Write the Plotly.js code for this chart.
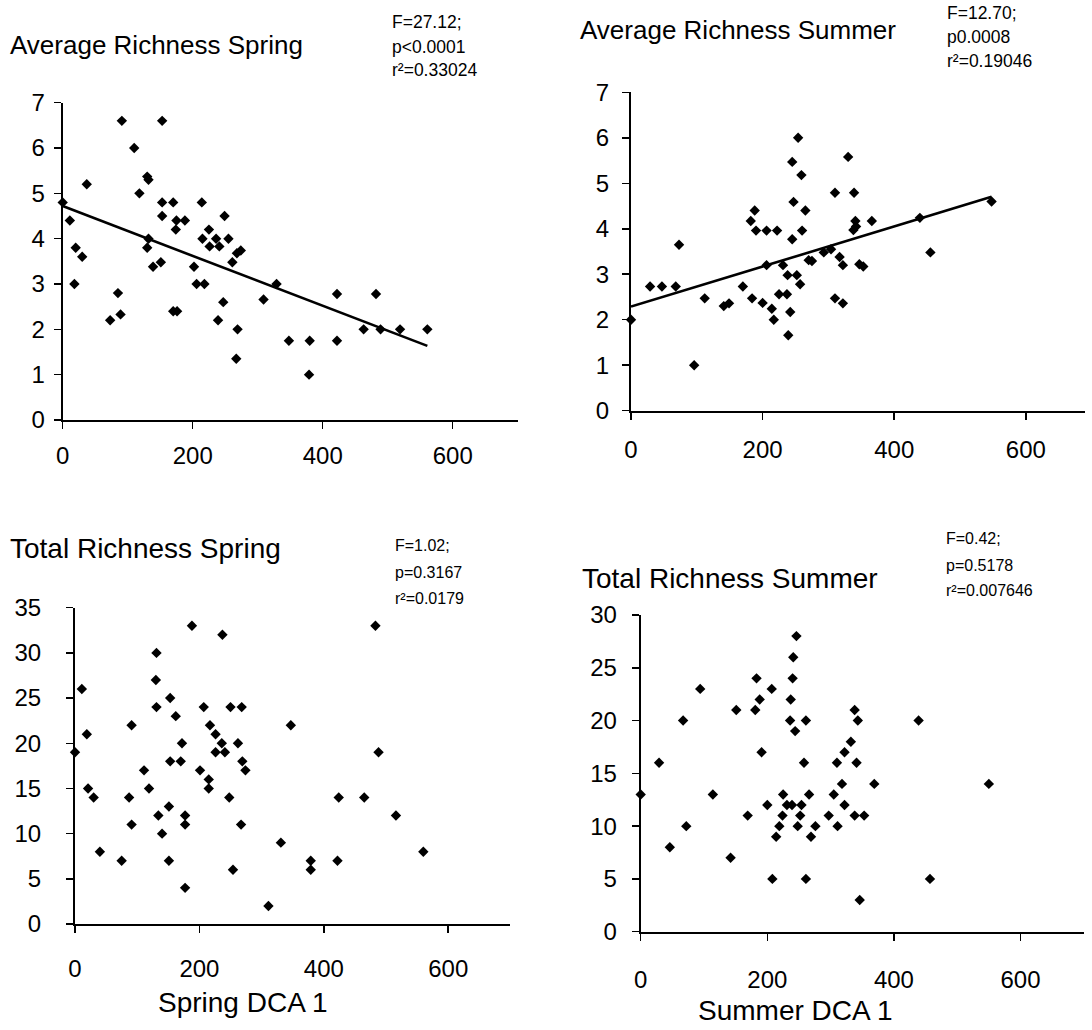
<!DOCTYPE html>
<html>
<head>
<meta charset="utf-8">
<script src="https://cdn.plot.ly/plotly-3.0.1.min.js"></script>
<style>html,body{margin:0;padding:0;background:#fff}#chart{width:1092px;height:1030px}</style>
</head>
<body>
<div id="chart"></div>
<script>
// ---- Average Richness Spring ----
var springAvgX = [0,11,20,30,18,37,73,85,89,91,110,118,130,132,132,130,153,153,153,139,151,170,175,174,188,170,176,214,202,206,218,215,225,226,236,241,249,255,261,268,274,247,239,269,267,309,329,348,380,379,422,422,463,482,489,519,561];
var springAvgY = [4.8,4.4,3.8,3.6,3.0,5.2,2.2,2.8,2.33,6.6,6.0,5.0,5.37,5.3,4.0,3.8,6.6,4.8,4.5,3.38,3.48,4.8,4.4,4.2,4.4,2.4,2.4,4.8,3.38,3.0,3.0,4.0,4.2,3.83,4.0,3.83,4.5,4.0,3.48,3.68,3.74,2.6,2.2,2.0,1.35,2.66,3.0,1.75,1.75,1.0,2.78,1.75,2.0,2.78,2.0,2.0,2.0];
var springAvgFit = [4.72, -0.0055];   // intercept, slope

// ---- Average Richness Summer ----
var summerAvgX = [0,29,47,68,73,96,112,141,149,170,182,188,190,206,222,184,200,206,214,217,231,225,237,238,252,257,242,239,245,260,265,247,245,259,254,270,275,293,304,310,310,330,339,341,338,342,366,317,322,347,353,322,439,455,548];
var summerAvgY = [2.0,2.73,2.73,2.73,3.65,1.0,2.47,2.3,2.36,2.73,4.17,4.4,3.96,3.96,3.96,2.47,2.37,3.2,2.24,2.0,3.2,2.56,2.56,2.98,2.98,2.78,2.17,1.66,3.77,3.96,4.4,4.59,5.47,5.18,6.0,3.31,3.29,3.48,3.55,4.79,2.47,5.58,4.79,4.17,3.97,4.05,4.17,3.38,3.2,3.22,3.17,2.36,4.24,3.48,4.6];
var summerAvgFit = [2.29, 0.0044];

// ---- Total Richness Spring ----
var springTotX = [0,11,19,21,30,40,75,87,91,91,111,119,131,130,131,134,140,153,153,151,151,162,172,170,177,177,177,188,207,201,215,215,217,226,226,236,241,237,248,250,262,268,269,274,267,254,311,331,347,379,379,422,424,465,483,488,516,560];
var springTotY = [19,26,21,15,14,8,7,14,22,11,17,15,30,27,24,12,10,25,18,13,7,23,20,18,12,11,4,33,24,17,16,15,22,21,19,20,19,32,14,24,20,24,18,17,11,6,2,9,22,7,6,7,14,14,33,19,12,8];

// ---- Total Richness Summer ----
var summerTotX = [0,29,46,67,72,94,114,142,151,169,183,188,181,191,207,200,208,214,219,224,225,231,239,236,237,240,241,246,244,248,252,254,261,258,266,269,276,261,297,311,305,310,318,322,322,332,338,343,341,338,353,369,346,439,457,550];
var summerTotY = [13,16,8,20,10,23,13,7,21,11,24,22,21,17,23,12,5,9,10,11,13,12,12,20,22,24,26,28,19,10,11,12,20,16,13,9,10,5,11,10,13,16,14,17,12,18,21,20,16,11,11,14,3,20,5,14];

// ---- Text ----
var panelTitles = ["Average Richness Spring","Average Richness Summer","Total Richness Spring","Total Richness Summer"];
var statLines = [
  ["F=27.12;","p<0.0001","r\u00b2=0.33024"],
  ["F=12.70;","p0.0008","r\u00b2=0.19046"],
  ["F=1.02;","p=0.3167","r\u00b2=0.0179"],
  ["F=0.42;","p=0.5178","r\u00b2=0.007646"]
];
var xAxisTitles = ["Spring DCA 1","Summer DCA 1"];

var W = 1092, H = 1030;
function px(x){return x/W;}
function py(y){return 1 - y/H;}
var FONT = "Arial, 'Liberation Sans', sans-serif";

function fitLine(xs, fit){
  var x0 = 0, x1 = Math.max.apply(null, xs);
  return {x:[x0,x1], y:[fit[0]+fit[1]*x0, fit[0]+fit[1]*x1]};
}

var mk = {symbol:'diamond', size:8, color:'black'};
var l1 = fitLine(springAvgX, springAvgFit);
var l2 = fitLine(summerAvgX, summerAvgFit);
var traces = [
  {x:springAvgX, y:springAvgY, mode:'markers', type:'scatter', marker:mk, xaxis:'x', yaxis:'y', cliponaxis:false},
  {x:l1.x, y:l1.y, mode:'lines', type:'scatter', line:{color:'black', width:2.6}, xaxis:'x', yaxis:'y', cliponaxis:false},
  {x:summerAvgX, y:summerAvgY, mode:'markers', type:'scatter', marker:mk, xaxis:'x2', yaxis:'y2', cliponaxis:false},
  {x:l2.x, y:l2.y, mode:'lines', type:'scatter', line:{color:'black', width:2.6}, xaxis:'x2', yaxis:'y2', cliponaxis:false},
  {x:springTotX, y:springTotY, mode:'markers', type:'scatter', marker:mk, xaxis:'x3', yaxis:'y3', cliponaxis:false},
  {x:summerTotX, y:summerTotY, mode:'markers', type:'scatter', marker:mk, xaxis:'x4', yaxis:'y4', cliponaxis:false}
];

function ax(extra){
  var a = {showline:true, linecolor:'black', linewidth:2, ticks:'outside', ticklen:7, tickwidth:1.5, tickcolor:'black',
    showgrid:false, zeroline:false, fixedrange:true,
    tickfont:{family:FONT, size:24, color:'black'}};
  for (var k in extra) a[k] = extra[k];
  return a;
}

var layout = {
  width: W, height: H,
  margin:{l:0,r:0,t:0,b:0},
  paper_bgcolor:'white', plot_bgcolor:'white',
  showlegend:false,
  xaxis: ax({domain:[px(62.7), px(62.7+0.65*700)], range:[0,700], tick0:0, dtick:200, anchor:'y', ticklabelstandoff:6}),
  yaxis: ax({domain:[py(420), py(102.7)], range:[0,7], tick0:0, dtick:1, anchor:'x', ticklabelstandoff:4}),
  xaxis2: ax({domain:[px(631), px(631+0.658*690)], range:[0,690], tick0:0, dtick:200, anchor:'y2', ticklabelstandoff:9}),
  yaxis2: ax({domain:[py(410.7), py(92.3)], range:[0,7], tick0:0, dtick:1, anchor:'x2', ticklabelstandoff:8}),
  xaxis3: ax({domain:[px(75), px(75+0.622*700)], range:[0,700], tick0:0, dtick:200, anchor:'y3', ticklabelstandoff:15}),
  yaxis3: ax({domain:[py(924), py(607.7)], range:[0,35], tick0:0, dtick:5, anchor:'x3', ticklabelstandoff:20}),
  xaxis4: ax({domain:[px(640.7), px(640.7+0.633*700)], range:[0,700], tick0:0, dtick:200, anchor:'y4', ticklabelstandoff:18}),
  yaxis4: ax({domain:[py(931.7), py(615)], range:[0,30], tick0:0, dtick:5, anchor:'x4', ticklabelstandoff:10}),
  annotations: []
};

var titlePos = [[8,45,26],[578,30,26],[8,548,28],[580,578,28]];
var statPos = [[390,[22,47,70],17.5],[945,[13,37,61],17.5],[393,[545,572,598],16],[944,[538,565,590],16]];
for (var i=0;i<4;i++){
  layout.annotations.push({xref:'paper', yref:'paper', x:px(titlePos[i][0]), y:py(titlePos[i][1]), xanchor:'left', yanchor:'middle',
    text:panelTitles[i], showarrow:false, font:{family:FONT, size:titlePos[i][2], color:'black'}});
  for (var j=0;j<3;j++){
    layout.annotations.push({xref:'paper', yref:'paper', x:px(statPos[i][0]), y:py(statPos[i][1][j]), xanchor:'left', yanchor:'middle',
      text:statLines[i][j], showarrow:false, font:{family:FONT, size:statPos[i][2], color:'black'}});
  }
}
layout.annotations.push({xref:'paper', yref:'paper', x:px(243), y:py(1002), xanchor:'center', yanchor:'middle',
  text:xAxisTitles[0], showarrow:false, font:{family:FONT, size:28, color:'black'}});
layout.annotations.push({xref:'paper', yref:'paper', x:px(795), y:py(1010), xanchor:'center', yanchor:'middle',
  text:xAxisTitles[1], showarrow:false, font:{family:FONT, size:28, color:'black'}});

Plotly.newPlot('chart', traces, layout, {staticPlot:true, displayModeBar:false});
</script>
</body>
</html>
